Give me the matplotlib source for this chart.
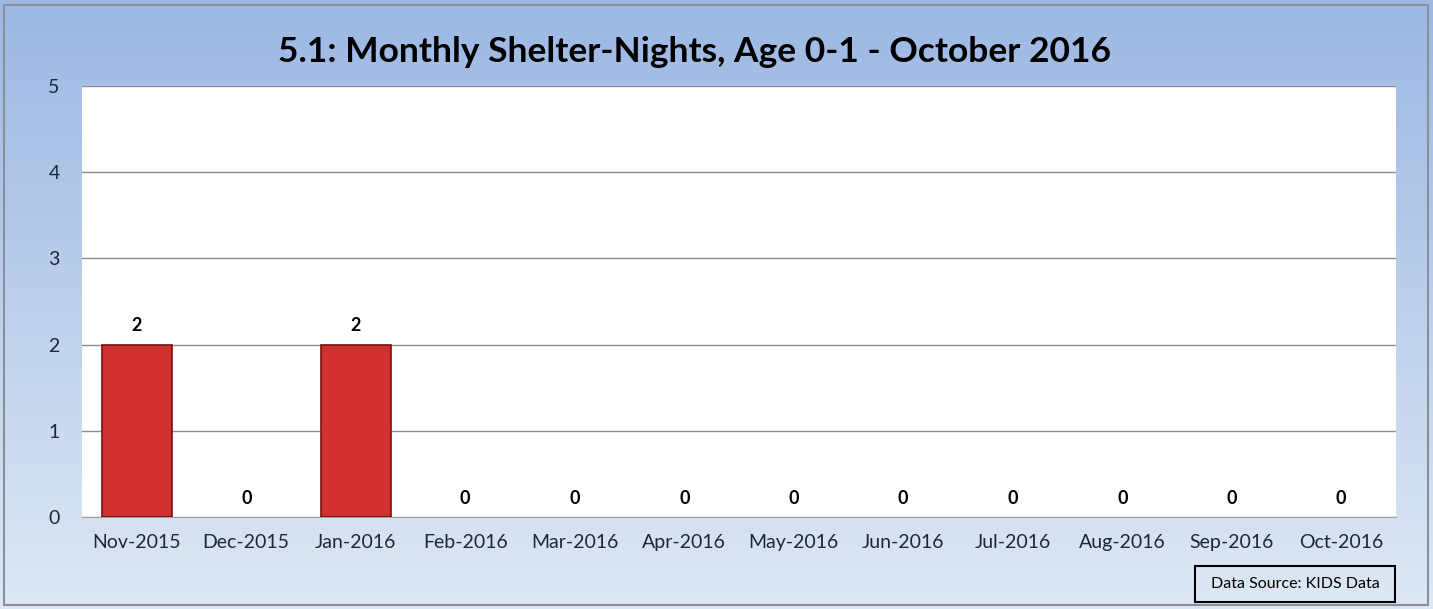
import matplotlib.pyplot as plt
import numpy as np
from matplotlib.patches import Rectangle

plt.rcParams['font.family'] = ['Lato', 'DejaVu Sans']

months = ["Nov-2015", "Dec-2015", "Jan-2016", "Feb-2016", "Mar-2016", "Apr-2016",
          "May-2016", "Jun-2016", "Jul-2016", "Aug-2016", "Sep-2016", "Oct-2016"]
nights = [2, 0, 2, 0, 0, 0, 0, 0, 0, 0, 0, 0]
yticks = [0, 1, 2, 3, 4, 5]
title = "5.1: Monthly Shelter-Nights, Age 0-1 - October 2016"
source = "Data Source: KIDS Data"

W, H = 1433, 609
fig = plt.figure(figsize=(W / 100, H / 100), dpi=100)

# background gradient
bg = fig.add_axes([0, 0, 1, 1], zorder=0)
top = np.array([0.61, 0.72, 0.89])
bot = np.array([0.87, 0.91, 0.96])
t = np.linspace(0, 1, 200)[:, None]
grad = top * (1 - t) + bot * t
bg.imshow(grad[:, None, :].repeat(2, axis=1), aspect='auto', extent=[0, 1, 0, 1], origin='upper')
bg.add_patch(Rectangle((4 / W, 4 / H), 1 - 9 / W, 1 - 9 / H, fill=False, ec='#8a8f99', lw=1.5))
bg.set_xlim(0, 1)
bg.set_ylim(0, 1)
bg.axis('off')

# plot area
x0, x1, y0, y1 = 82, 1396, 86, 517
ax = fig.add_axes([x0 / W, 1 - y1 / H, (x1 - x0) / W, (y1 - y0) / H], zorder=1)
ax.set_facecolor('white')
x = np.arange(len(months))
edges = ['#7a1010' if v > 0 else 'none' for v in nights]
ax.bar(x, nights, width=0.64, color='#d03030', edgecolor=edges, linewidth=1.2, zorder=3)
for xi, v in zip(x, nights):
    ax.text(xi, v + 0.12, str(v), ha='center', va='bottom', fontsize=13, fontweight='bold', zorder=4)
ax.set_xlim(-0.5, len(months) - 0.5)
ax.set_ylim(0, 5)
ax.set_yticks(yticks)
ax.grid(axis='y', color='#8c8c8c', lw=1, zorder=1)
ax.set_xticks(x)
ax.set_xticklabels(months, fontsize=14)
ax.tick_params(axis='y', labelsize=14, length=0, pad=16, colors='#1a2a3a')
ax.tick_params(axis='x', length=0, pad=12, colors='#1a2a3a')
for s in ['top', 'right', 'left']:
    ax.spines[s].set_visible(False)
ax.spines['bottom'].set_color('#a0a0a0')

fig.text(695 / W, 1 - 52 / H, title, ha='center', va='center', fontsize=25.5, fontweight='bold')

# source box
bx0, bx1, by0, by1 = 1195, 1395, 566, 602
fig.add_artist(Rectangle((bx0 / W, 1 - by1 / H), (bx1 - bx0) / W, (by1 - by0) / H,
                         transform=fig.transFigure, fill=False, ec='black', lw=1.5, zorder=5))
fig.text((bx0 + bx1) / 2 / W, 1 - (by0 + by1) / 2 / H, source, ha='center', va='center', fontsize=11.5)

fig.savefig('out.png', dpi=100)
